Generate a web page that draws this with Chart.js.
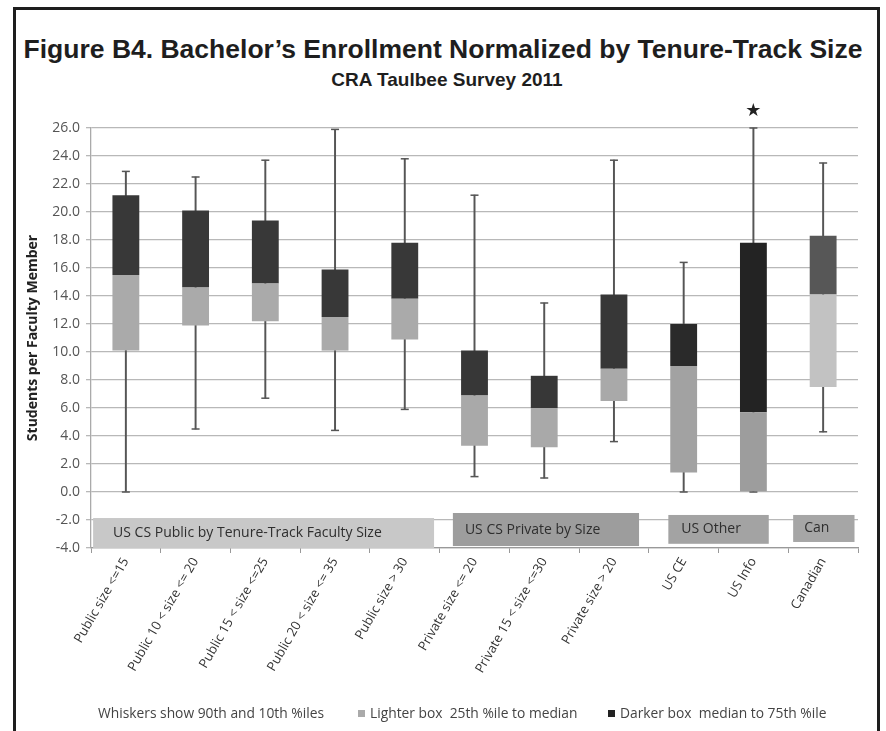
<!DOCTYPE html>
<html>
<head>
<meta charset="utf-8">
<script src="https://cdn.jsdelivr.net/npm/chart.js@4.4.0/dist/chart.umd.min.js"></script>
<style>
  html, body { margin: 0; padding: 0; background: #fff; }
  body { width: 886px; height: 731px; position: relative; overflow: hidden; font-family: "Open Sans", sans-serif; }
  #frame { position: absolute; left: 13px; top: 7px; width: 867px; height: 760px; border: 3px solid #1e1e1e; border-bottom: none; box-sizing: border-box; }
  #title { position: absolute; left: 0; width: 886px; top: 36px; text-align: center; font: bold 26.5px "Liberation Sans", Arial, sans-serif; line-height: 26px; color: #1e1e1e; white-space: nowrap; }
  #subtitle { position: absolute; left: 4px; width: 886px; top: 70px; text-align: center; font: bold 19px "Liberation Sans", Arial, sans-serif; line-height: 19px; color: #1e1e1e; }
  #wrap { position: absolute; left: 0; top: 0; width: 886px; height: 731px; }
  #legend { position: absolute; left: 98px; top: 703px; font-size: 13.8px; color: #444; white-space: nowrap; }
  #legend span.item { position: absolute; top: 0; }
  #legend i { display: inline-block; width: 7px; height: 7px; margin-right: 5px; vertical-align: 1px; }
</style>
</head>
<body>
<div id="frame"></div>
<div id="title">Figure B4. Bachelor’s Enrollment Normalized by Tenure-Track Size</div>
<div id="subtitle">CRA Taulbee Survey 2011</div>
<div id="wrap"><canvas id="chart" width="886" height="731"></canvas></div>
<div id="legend">
  <span class="item" style="left:0">Whiskers show 90th and 10th %iles</span>
  <span class="item" style="left:260px"><i style="background:#aaa"></i>Lighter box&nbsp; 25th %ile to median</span>
  <span class="item" style="left:510px"><i style="background:#222"></i>Darker box&nbsp; median to 75th %ile</span>
</div>
<script>
// categories and the five percentiles
const categories = [
  'Public size <=15', 'Public 10 < size <= 20', 'Public 15 < size <=25', 'Public 20 < size <= 35',
  'Public size > 30', 'Private size <= 20', 'Private 15 < size <=30', 'Private size > 20',
  'US CE', 'US Info', 'Canadian'
];
const p10    = [0.0, 4.5, 6.7, 4.4, 5.9, 1.1, 1.0, 3.6, 0.0, 0.0, 4.3];
const p25    = [10.1, 11.9, 12.2, 10.1, 10.9, 3.3, 3.2, 6.5, 1.4, 0.0, 7.5];
const median = [15.5, 14.6, 14.9, 12.5, 13.8, 6.9, 6.0, 8.8, 9.0, 5.7, 14.1];
const p75    = [21.2, 20.1, 19.4, 15.9, 17.8, 10.1, 8.3, 14.1, 12.0, 17.8, 18.3];
const p90    = [22.9, 22.5, 23.7, 25.9, 23.8, 21.2, 13.5, 23.7, 16.4, 26.0, 23.5];
const starred = [false, false, false, false, false, false, false, false, false, true, false];

// group bands drawn under the axis
const groupNames = ['US CS Public by Tenure-Track Faculty Size', 'US CS Private by Size', 'US Other', 'Can'];
const groupFirst = [0, 5, 8, 10];
const groupLast  = [4, 7, 9, 10];

const yTicks = { min: -4, max: 26, step: 2 };

const lightColors = ['#aaaaaa','#aaaaaa','#aaaaaa','#aaaaaa','#aaaaaa','#a9a9a9','#a9a9a9','#a9a9a9','#a2a2a2','#9d9d9d','#c2c2c2'];
const darkColors  = ['#383838','#383838','#383838','#383838','#383838','#373737','#373737','#373737','#2a2a2a','#232323','#575757'];

// band geometry (in category / value units) and fill
const bandStyle = [
  { l: 0.03, r: 0.08, top: -1.86, bottom: -4.0, fill: '#c8c8c8', pad: 20 },
  { l: 0.19, r: 0.14, top: -1.5, bottom: -3.86, fill: '#9d9d9d', pad: 12 },
  { l: 0.28, r: 0.28, top: -1.64, bottom: -3.7, fill: '#a3a3a3', pad: 13 },
  { l: 0.07, r: 0.05, top: -1.64, bottom: -3.57, fill: '#a6a6a6', pad: 11 },
];

const groupBands = {
  id: 'groupBands',
  beforeDatasetsDraw(chart) {
    const { ctx, scales: { x, y } } = chart;
    ctx.save();
    groupNames.forEach((name, i) => {
      const s = bandStyle[i];
      const left = x.getPixelForValue(groupFirst[i] - 0.5 + s.l);
      const right = x.getPixelForValue(groupLast[i] + 0.5 - s.r);
      const top = y.getPixelForValue(s.top);
      const bottom = y.getPixelForValue(s.bottom);
      ctx.fillStyle = s.fill;
      ctx.fillRect(left, top, right - left, bottom - top);
      ctx.fillStyle = '#2e2e2e';
      ctx.font = '14px "Open Sans", sans-serif';
      ctx.textAlign = 'left';
      ctx.textBaseline = 'middle';
      ctx.fillText(name, left + s.pad, (top + bottom) / 2);
    });
    ctx.restore();
  },
  afterDraw(chart) {
    const { ctx, chartArea, scales: { x } } = chart;
    ctx.save();
    ctx.fillStyle = '#222';
    ctx.font = '18px "DejaVu Sans", sans-serif';
    ctx.textAlign = 'center';
    ctx.textBaseline = 'middle';
    starred.forEach((s, i) => {
      if (s) ctx.fillText('★', x.getPixelForValue(i), chartArea.top - 17);
    });
    ctx.restore();
  }
};

const barOpts = { grouped: false, categoryPercentage: 1, barPercentage: 0.385, borderWidth: 0, clip: false };

new Chart(document.getElementById('chart'), {
  type: 'bar',
  data: {
    labels: categories,
    datasets: [
      { label: 'Lighter box 25th %ile to median', data: p25.map((v, i) => [v, median[i]]),
        backgroundColor: lightColors, order: 0, ...barOpts },
      { label: 'Darker box median to 75th %ile', data: median.map((v, i) => [v, p75[i]]),
        backgroundColor: darkColors, order: 0, ...barOpts },
      { label: 'Whiskers', data: p10.map((v, i) => [v, p90[i]]),
        backgroundColor: '#555', barThickness: 1.3, grouped: false, order: 2, clip: false },
      { type: 'line', label: '90th', data: p90, showLine: false, pointStyle: 'line', pointRadius: 4,
        pointBorderColor: '#555', pointBorderWidth: 1.5, order: 1, clip: false },
      { type: 'line', label: '10th', data: p10, showLine: false, pointStyle: 'line', pointRadius: 4,
        pointBorderColor: '#555', pointBorderWidth: 1.5, order: 1, clip: false },
    ]
  },
  options: {
    responsive: false,
    animation: false,
    devicePixelRatio: 1,
    layout: { padding: { top: 128, left: 20, right: 28, bottom: 0 } },
    plugins: { legend: { display: false }, tooltip: { enabled: false } },
    scales: {
      x: {
        offset: true,
        afterFit: (s) => { s.height = 183; },
        grid: { drawOnChartArea: false, drawTicks: true, tickLength: 5, color: '#999' },
        border: { color: '#999', width: 1.3 },
        ticks: { color: '#333', font: { family: '"Open Sans", sans-serif', size: 13 },
                 minRotation: 60, maxRotation: 60, autoSkip: false, padding: 2 }
      },
      y: {
        min: yTicks.min, max: yTicks.max,
        afterFit: (s) => { s.width = 71; },
        ticks: { stepSize: yTicks.step, color: '#555', padding: 6,
                 font: { family: '"Open Sans", sans-serif', size: 14 },
                 callback: (v) => Number(v).toFixed(1) },
        grid: { color: '#b8b8b8', lineWidth: 1.3, tickLength: 5 },
        border: { color: '#aaa', width: 1.3 },
        title: { display: true, text: 'Students per Faculty Member', color: '#222',
                 font: { family: '"Open Sans", sans-serif', size: 14, weight: 'bold' },
                 padding: { top: 5, bottom: 0 } }
      }
    }
  },
  plugins: [groupBands]
});
</script>
</body>
</html>
